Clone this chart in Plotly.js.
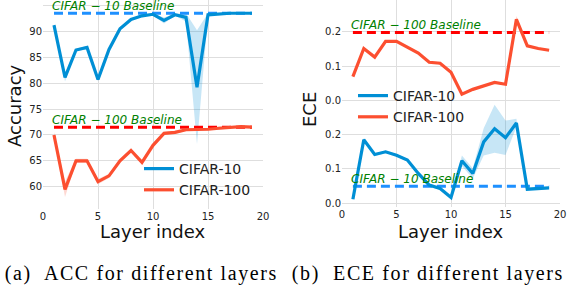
<!DOCTYPE html>
<html>
<head>
<meta charset="utf-8">
<script src="https://cdn.plot.ly/plotly-3.0.1.min.js"></script>
<style>
html,body{margin:0;padding:0;background:#fff;}
#chart{width:572px;height:290px;}
#chart g.annotation[data-index="8"] text, #chart g.annotation[data-index="9"] text{letter-spacing:1.6px;}
</style>
</head>
<body>
<div id="chart"></div>
<script>
// ---- data ----
const layers = [1,2,3,4,5,6,7,8,9,10,11,12,13,14,15,16,17,18,19];
const acc10 = [91.2,81.1,86.4,86.9,80.7,86.5,90.5,92.3,93.0,93.3,92.1,93.2,92.7,79.2,93.2,93.4,93.5,93.5,93.5];
const acc10Std = [0.3,0.8,0.3,0.3,0.4,0.3,0.3,0.2,0.2,0.2,0.6,0.2,0.8,11,0.3,0.1,0.1,0.1,0.1];
const acc100 = [70.0,59.5,65.0,65.0,61.0,62.1,65.0,67.0,64.7,68.0,70.3,70.5,71.0,71.0,71.1,71.3,71.5,71.6,71.5];
const acc100Std = [0.5,1.5,0.4,0.4,0.5,0.4,0.3,0.3,0.4,0.3,0.3,0.3,0.2,0.2,0.2,0.3,0.2,0.2,0.2];
const ece10 = [0.012,0.185,0.142,0.150,0.140,0.126,0.087,0.053,0.043,0.017,0.124,0.087,0.179,0.217,0.191,0.234,0.041,0.043,0.045];
const ece10Std = [0.003,0.005,0.004,0.004,0.004,0.004,0.004,0.004,0.004,0.004,0.015,0.015,0.04,0.07,0.05,0.012,0.003,0.003,0.003];
const ece100 = [0.069,0.151,0.126,0.172,0.172,0.156,0.138,0.111,0.108,0.082,0.018,0.032,0.042,0.052,0.047,0.236,0.159,0.151,0.146];
const ece100Std = [0.004,0.005,0.004,0.004,0.003,0.003,0.003,0.003,0.003,0.003,0.003,0.003,0.003,0.003,0.003,0.01,0.004,0.003,0.003];
const accBase10 = 93.5, accBase100 = 71.5;
const eceBase10 = 0.05, eceBase100 = 0.198;
const eceOffset100 = 0.3; // CIFAR-100 ECE drawn shifted up in the stacked panel
const xTicks = [0,5,10,15,20];
const accTicks = [60,65,70,75,80,85,90,95];
const eceTickVals = [0,0.1,0.2,0.3,0.4,0.5];
const eceTickText = ['0.0','0.1','0.2','0.0','0.1','0.2'];

// ---- style ----
const BLUE = '#008fd5', RED = '#fc4f30';
const BLUE_BAND = 'rgba(0,143,213,0.22)', RED_BAND = 'rgba(252,79,48,0.22)';
const BASE_BLUE = '#1e90ff', BASE_RED = '#ff0000';
const FONT = 'DejaVu Sans';

function band(y, s, xa, ya, fill, shift) {
  shift = shift || 0;
  const lo = y.map((v,i)=>v - s[i] + shift);
  const hi = y.map((v,i)=>v + s[i] + shift);
  return [
    {x: layers, y: lo, xaxis: xa, yaxis: ya, mode: 'lines', line: {width: 0, color: fill}, showlegend: false, hoverinfo: 'skip'},
    {x: layers, y: hi, xaxis: xa, yaxis: ya, mode: 'lines', line: {width: 0, color: fill}, fill: 'tonexty', fillcolor: fill, showlegend: false, hoverinfo: 'skip'}
  ];
}
function baseline(v, xa, ya, color) {
  return {x: [layers[0], layers[layers.length-1]], y: [v, v], xaxis: xa, yaxis: ya, mode: 'lines',
    line: {color: color, width: 3, dash: '9px,5px'}, showlegend: false, hoverinfo: 'skip'};
}

const traces = [].concat(
  band(acc10, acc10Std, 'x', 'y', BLUE_BAND),
  band(acc100, acc100Std, 'x', 'y', RED_BAND),
  [baseline(accBase10, 'x', 'y', BASE_BLUE), baseline(accBase100, 'x', 'y', BASE_RED)],
  [{x: layers, y: acc10, xaxis: 'x', yaxis: 'y', mode: 'lines', name: 'CIFAR-10', line: {color: BLUE, width: 3.2}, legend: 'legend'},
   {x: layers, y: acc100, xaxis: 'x', yaxis: 'y', mode: 'lines', name: 'CIFAR-100', line: {color: RED, width: 3.2}, legend: 'legend'}],
  band(ece10, ece10Std, 'x2', 'y2', BLUE_BAND),
  band(ece100, ece100Std, 'x2', 'y2', RED_BAND, eceOffset100),
  [baseline(eceBase10, 'x2', 'y2', BASE_BLUE), baseline(eceBase100 + eceOffset100, 'x2', 'y2', BASE_RED)],
  [{x: layers, y: ece10, xaxis: 'x2', yaxis: 'y2', mode: 'lines', name: 'CIFAR-10', line: {color: BLUE, width: 3.2}, legend: 'legend2'},
   {x: layers, y: ece100.map(v=>v + eceOffset100), xaxis: 'x2', yaxis: 'y2', mode: 'lines', name: 'CIFAR-100', line: {color: RED, width: 3.2}, legend: 'legend2'}]
);

const W = 572, H = 290;
const axCommon = {showgrid: true, gridcolor: '#dedede', gridwidth: 1, zeroline: false, showline: false,
  ticks: '', tickfont: {family: FONT, size: 10, color: '#222'}, fixedrange: true};

const baseAnn = {showarrow: false, font: {family: FONT, size: 12, color: 'green'}, xanchor: 'left', yanchor: 'middle'};

const layout = {
  width: W, height: H,
  margin: {l: 0, r: 0, t: 0, b: 0},
  paper_bgcolor: '#fff', plot_bgcolor: '#fff',
  xaxis: Object.assign({}, axCommon, {domain: [43/W, 263/W], range: [0, 20], tickvals: xTicks, anchor: 'y'}),
  yaxis: Object.assign({}, axCommon, {domain: [1 - 209/H, 1], range: [55.7, 96.06], tickvals: accTicks, anchor: 'x'}),
  xaxis2: Object.assign({}, axCommon, {domain: [342/W, 560/W], range: [0, 20], tickvals: xTicks, anchor: 'y2'}),
  yaxis2: Object.assign({}, axCommon, {domain: [1 - 207/H, 1], range: [-0.0108, 0.5924], tickvals: eceTickVals, ticktext: eceTickText, anchor: 'x2'}),
  showlegend: true,
  legend: {x: 139/W, y: 1 - 153/H, xanchor: 'left', yanchor: 'top', bgcolor: 'rgba(0,0,0,0)', borderwidth: 0,
    font: {family: FONT, size: 14, color: '#222'}, traceorder: 'normal'},
  legend2: {x: 353/W, y: 1 - 80/H, xanchor: 'left', yanchor: 'top', bgcolor: 'rgba(0,0,0,0)', borderwidth: 0,
    font: {family: FONT, size: 14, color: '#222'}, traceorder: 'normal'},
  annotations: [
    Object.assign({}, baseAnn, {text: '<i>CIFAR − 10 Baseline</i>', xref: 'x', yref: 'y', x: 1, y: accBase10, xshift: -4, yshift: 7}),
    Object.assign({}, baseAnn, {text: '<i>CIFAR − 100 Baseline</i>', xref: 'x', yref: 'y', x: 1, y: accBase100, xshift: -4, yshift: 7}),
    Object.assign({}, baseAnn, {text: '<i>CIFAR − 100 Baseline</i>', xref: 'x2', yref: 'y2', x: 1, y: eceBase100 + eceOffset100, xshift: -4, yshift: 7}),
    Object.assign({}, baseAnn, {text: '<i>CIFAR − 10 Baseline</i>', xref: 'x2', yref: 'y2', x: 1, y: eceBase10, xshift: -4, yshift: 7}),
    {text: 'Accuracy', xref: 'paper', yref: 'paper', x: 14/W, y: 1 - 106/H, textangle: -90, showarrow: false,
      font: {family: FONT, size: 18, color: '#111'}, xanchor: 'center', yanchor: 'middle'},
    {text: 'ECE', xref: 'paper', yref: 'paper', x: 309/W, y: 1 - 110/H, textangle: -90, showarrow: false,
      font: {family: FONT, size: 18, color: '#111'}, xanchor: 'center', yanchor: 'middle'},
    {text: 'Layer index', xref: 'paper', yref: 'paper', x: 153/W, y: 1 - 231/H, showarrow: false,
      font: {family: FONT, size: 18, color: '#111'}, xanchor: 'center', yanchor: 'middle'},
    {text: 'Layer index', xref: 'paper', yref: 'paper', x: 451/W, y: 1 - 231/H, showarrow: false,
      font: {family: FONT, size: 18, color: '#111'}, xanchor: 'center', yanchor: 'middle'},
    {text: '(a)  ACC for different layers', xref: 'paper', yref: 'paper', x: 141/W, y: 1 - 273/H, showarrow: false,
      font: {family: 'Liberation Serif', size: 20, color: '#000'}, xanchor: 'center', yanchor: 'middle'},
    {text: '(b)  ECE for different layers', xref: 'paper', yref: 'paper', x: 428/W, y: 1 - 273/H, showarrow: false,
      font: {family: 'Liberation Serif', size: 20, color: '#000'}, xanchor: 'center', yanchor: 'middle'}
  ]
};

Plotly.newPlot('chart', traces, layout, {displayModeBar: false, staticPlot: true});
</script>
</body>
</html>
